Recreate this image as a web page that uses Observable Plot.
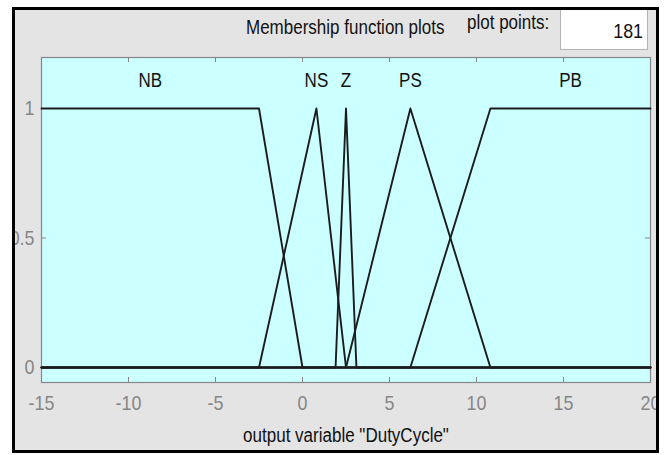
<!DOCTYPE html>
<html>
<head>
<meta charset="utf-8">
<script src="https://cdn.jsdelivr.net/npm/d3@7"></script>
<script src="https://cdn.jsdelivr.net/npm/@observablehq/plot@0.6"></script>
<style>
  html, body { margin: 0; padding: 0; background: #ffffff; }
  body { width: 671px; height: 455px; position: relative; overflow: hidden;
         font-family: "Liberation Sans", Arial, sans-serif; }
  #panel { position: absolute; left: 12px; top: 7px; width: 647px; height: 446px;
           box-sizing: border-box; border: 3px solid #000; background: #e4e4e4; overflow: hidden; }
  #chart { position: absolute; left: -15px; top: -10px; width: 671px; height: 455px; }
  #chart svg { max-width: none !important; display: block; }
  .hdr { position: absolute; white-space: nowrap; line-height: 1; color: #111; }
  #title { left: 231px; top: 7px; font-size: 20px; transform: scaleX(0.85); transform-origin: left center; }
  #pplabel { left: 452px; top: 2px; font-size: 20px; transform: scaleX(0.85); transform-origin: left center; }
  #ppbox { position: absolute; left: 545px; top: 0px; width: 88px; height: 40px; box-sizing: border-box;
           background: #fff; border: 1px solid #b4b4b4; border-top: none; }
  #ppval { position: absolute; right: 4px; top: 10px; font-size: 21px; line-height: 1; color: #111;
           transform: scaleX(0.85); transform-origin: right center; }
</style>
</head>
<body>
<div id="panel">
  <div id="chart"></div>
  <div class="hdr" id="title"></div>
  <div class="hdr" id="pplabel"></div>
  <div id="ppbox"><div id="ppval"></div></div>
</div>
<script>
// ---- data ----
const titleText = "Membership function plots";
const plotPointsLabel = "plot points:";
const plotPoints = 181;
const xLabel = "output variable \"DutyCycle\"";
const xTicks = [-15, -10, -5, 0, 5, 10, 15, 20];
const yTicks = [0, 0.5, 1];
const mfNames = ["NB", "NS", "Z", "PS", "PB"];
const nbX = [-15, -2.5, 0, 20];        const nbY = [1, 1, 0, 0];
const nsX = [-15, -2.5, 0.8, 2.5, 20]; const nsY = [0, 0, 1, 0, 0];
const zX  = [-15, 1.9, 2.5, 3.1, 20];  const zY  = [0, 0, 1, 0, 0];
const psX = [-15, 2.5, 6.2, 10.8, 20]; const psY = [0, 0, 1, 0, 0];
const pbX = [-15, 6.2, 10.8, 20];      const pbY = [0, 0, 1, 1];

const mfX = [nbX, nsX, zX, psX, pbX];
const mfY = [nbY, nsY, zY, psY, pbY];
const rows = mfNames.flatMap((n, i) => mfX[i].map((x, j) => ({mf: n, x, y: mfY[i][j]})));
const labels = mfNames.map((n, i) => {
  const top = mfX[i].filter((x, j) => mfY[i][j] === 1);
  return {name: n, x: (d3.min(top) + d3.max(top)) / 2};
});

document.getElementById("title").textContent = titleText;
document.getElementById("pplabel").textContent = plotPointsLabel;
document.getElementById("ppval").textContent = String(plotPoints);

const gray = "#868686";
const font = "'Liberation Sans', Arial, sans-serif";
const chart = Plot.plot({
  width: 671, height: 455,
  marginLeft: 41, marginRight: 21, marginTop: 57, marginBottom: 73,
  x: {domain: [-15, 20]},
  y: {domain: [-0.058, 1.197]},
  style: {background: "transparent", fontFamily: font, fontSize: "21px", color: "#111", overflow: "visible", maxWidth: "none"},
  marks: [
    Plot.frame({fill: "#ccffff"}),
    Plot.tickX(xTicks, {x: d => d, insetTop: 320, stroke: gray}),
    Plot.tickX(xTicks, {x: d => d, insetBottom: 320, stroke: gray}),
    Plot.tickY(yTicks, {y: d => d, insetRight: 604, stroke: gray}),
    Plot.tickY(yTicks, {y: d => d, insetLeft: 604, stroke: gray}),
    Plot.frame({stroke: gray, strokeWidth: 1.2}),
    Plot.axisX({ticks: xTicks, tickSize: 0, tickPadding: 13, tickFormat: d => String(d), label: null, fill: gray, fontSize: 21}),
    Plot.axisY({ticks: yTicks, tickSize: 0, tickPadding: 7, tickFormat: d => String(d), label: null, fill: gray, fontSize: 21}),
    Plot.line(rows, {x: "x", y: "y", z: "mf", stroke: "#1c1c1c", strokeWidth: 1.9}),
    Plot.text(labels, {x: "x", text: "name", frameAnchor: "top", dy: 23.5, lineAnchor: "middle", fill: "#111", fontSize: 20}),
    Plot.text([xLabel], {text: d => d, frameAnchor: "bottom", dy: 59, lineAnchor: "bottom", fill: "#111", fontSize: 20})
  ]
});
document.getElementById("chart").appendChild(chart);
// condense glyphs horizontally (narrow face as in the reference), keeping each anchor
chart.querySelectorAll("text").forEach(t => {
  const L = t.getComputedTextLength();
  if (L > 0) {
    t.setAttribute("textLength", (L * 0.85).toFixed(2));
    t.setAttribute("lengthAdjust", "spacingAndGlyphs");
  }
});
</script>
</body>
</html>
